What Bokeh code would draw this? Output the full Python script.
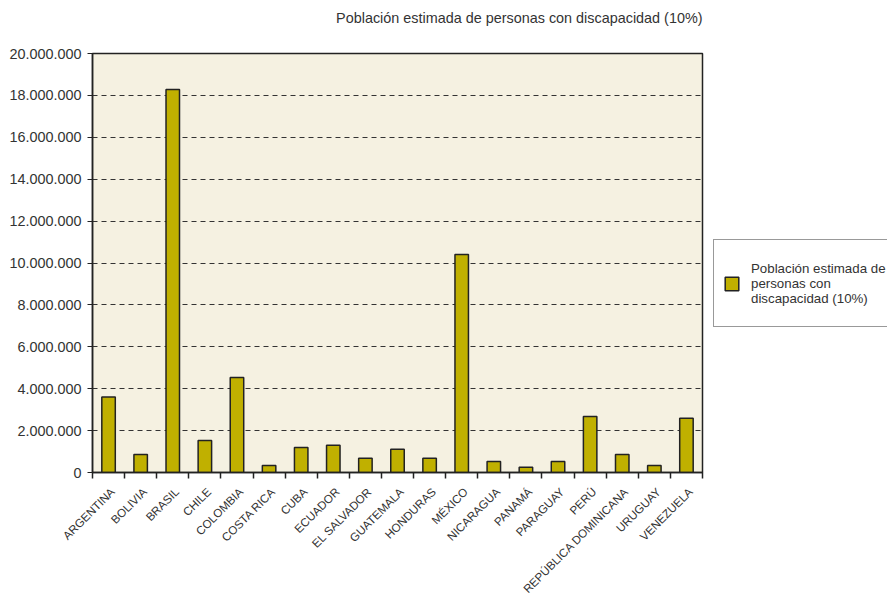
from bokeh.plotting import figure
from bokeh.models import FixedTicker, Range1d, Legend, LegendItem, ColumnDataSource, Title
from bokeh.embed import file_html
from bokeh.resources import INLINE
import math

paises = ["ARGENTINA", "BOLIVIA", "BRASIL", "CHILE", "COLOMBIA", "COSTA RICA", "CUBA",
          "ECUADOR", "EL SALVADOR", "GUATEMALA", "HONDURAS", "MÉXICO", "NICARAGUA",
          "PANAMÁ", "PARAGUAY", "PERÚ", "REPÚBLICA DOMINICANA", "URUGUAY", "VENEZUELA"]
poblacion = [3600000, 860000, 18280000, 1530000, 4530000, 330000, 1190000,
             1300000, 680000, 1110000, 680000, 10400000, 520000,
             250000, 520000, 2670000, 860000, 330000, 2590000]
y_ticks = [0, 2000000, 4000000, 6000000, 8000000, 10000000, 12000000, 14000000,
           16000000, 18000000, 20000000]
y_labels = ["0", "2.000.000", "4.000.000", "6.000.000", "8.000.000", "10.000.000",
            "12.000.000", "14.000.000", "16.000.000", "18.000.000", "20.000.000"]
serie = "Población estimada de personas con discapacidad (10%)"

FONT = "Liberation Sans"
n = len(paises)
centers = [i + 0.5 for i in range(n)]
label_pos = [i + 0.62 for i in range(n)]
bounds = [float(i) for i in range(n + 1)]

src = ColumnDataSource(dict(x=centers, top=poblacion, name=paises))

p = figure(frame_width=610, frame_height=419, output_backend="svg", toolbar_location=None,
           x_range=Range1d(0, n), y_range=Range1d(0, 20000000),
           min_border_left=92, min_border_right=185, min_border_top=53, min_border_bottom=123)
p.background_fill_color = "#F5F1E1"
p.border_fill_color = "white"
p.outline_line_color = "#222222"
p.outline_line_width = 1.5

# real title (outermost) with an empty spacer panel between it and the frame
p.title.text = serie
p.title.align = "right"
p.title.vertical_align = "top"
p.title.text_font = FONT
p.title.text_font_size = "14.4px"
p.title.text_font_style = "normal"
p.title.text_color = "#333333"
p.title.standoff = 19
espaciador = Title(text=" ", text_font_size="10px", standoff=3)
p.add_layout(espaciador, "above")

r = p.vbar(x="x", top="top", width=0.42, source=src, fill_color="#C0B000",
           line_color="#222222", line_width=1.5)

p.xgrid.grid_line_color = None
p.ygrid.grid_line_color = "#333333"
p.ygrid.grid_line_dash = "5 4"
p.ygrid.grid_line_width = 1

p.yaxis.ticker = FixedTicker(ticks=y_ticks)
p.yaxis.major_label_overrides = {float(t): l for t, l in zip(y_ticks, y_labels)}
p.yaxis.minor_tick_line_color = None
p.yaxis.major_tick_in = 0
p.yaxis.major_tick_out = 5
p.yaxis.major_label_standoff = 6
p.yaxis.major_label_text_font = FONT
p.yaxis.major_label_text_font_size = "14.4px"
p.yaxis.major_label_text_color = "#333333"
p.yaxis.axis_line_color = "#222222"
p.yaxis.axis_line_width = 1.5
p.yaxis.major_tick_line_color = "#222222"

p.xaxis.ticker = FixedTicker(ticks=label_pos, minor_ticks=bounds)
p.xaxis.major_label_overrides = {c: nm for c, nm in zip(label_pos, paises)}
p.xaxis.major_tick_line_color = None
p.xaxis.minor_tick_in = 0
p.xaxis.minor_tick_out = 6
p.xaxis.minor_tick_line_color = "#222222"
p.xaxis.minor_tick_line_width = 1.5
p.xaxis.axis_line_color = "#222222"
p.xaxis.axis_line_width = 1.5
p.xaxis.major_label_orientation = math.pi / 4
p.xaxis.major_label_standoff = 11
p.xaxis.major_label_text_font = FONT
p.xaxis.major_label_text_font_size = "11.6px"
p.xaxis.major_label_text_color = "#333333"

legend = Legend(items=[LegendItem(label="Población estimada de\npersonas con\ndiscapacidad (10%)",
                                  renderers=[r])],
                location=(11, 145), orientation="vertical")
legend.border_line_color = "#333333"
legend.border_line_width = 1
legend.background_fill_color = "white"
legend.padding = 9
legend.margin = 0
legend.glyph_width = 17
legend.glyph_height = 17
legend.label_standoff = 11
legend.label_height = 68
legend.label_text_font = FONT
legend.label_text_font_size = "13.3px"
legend.label_text_color = "#333333"
legend.label_text_line_height = 1.25
p.add_layout(legend, "right")

open("out.html", "w").write(file_html(p, INLINE))
